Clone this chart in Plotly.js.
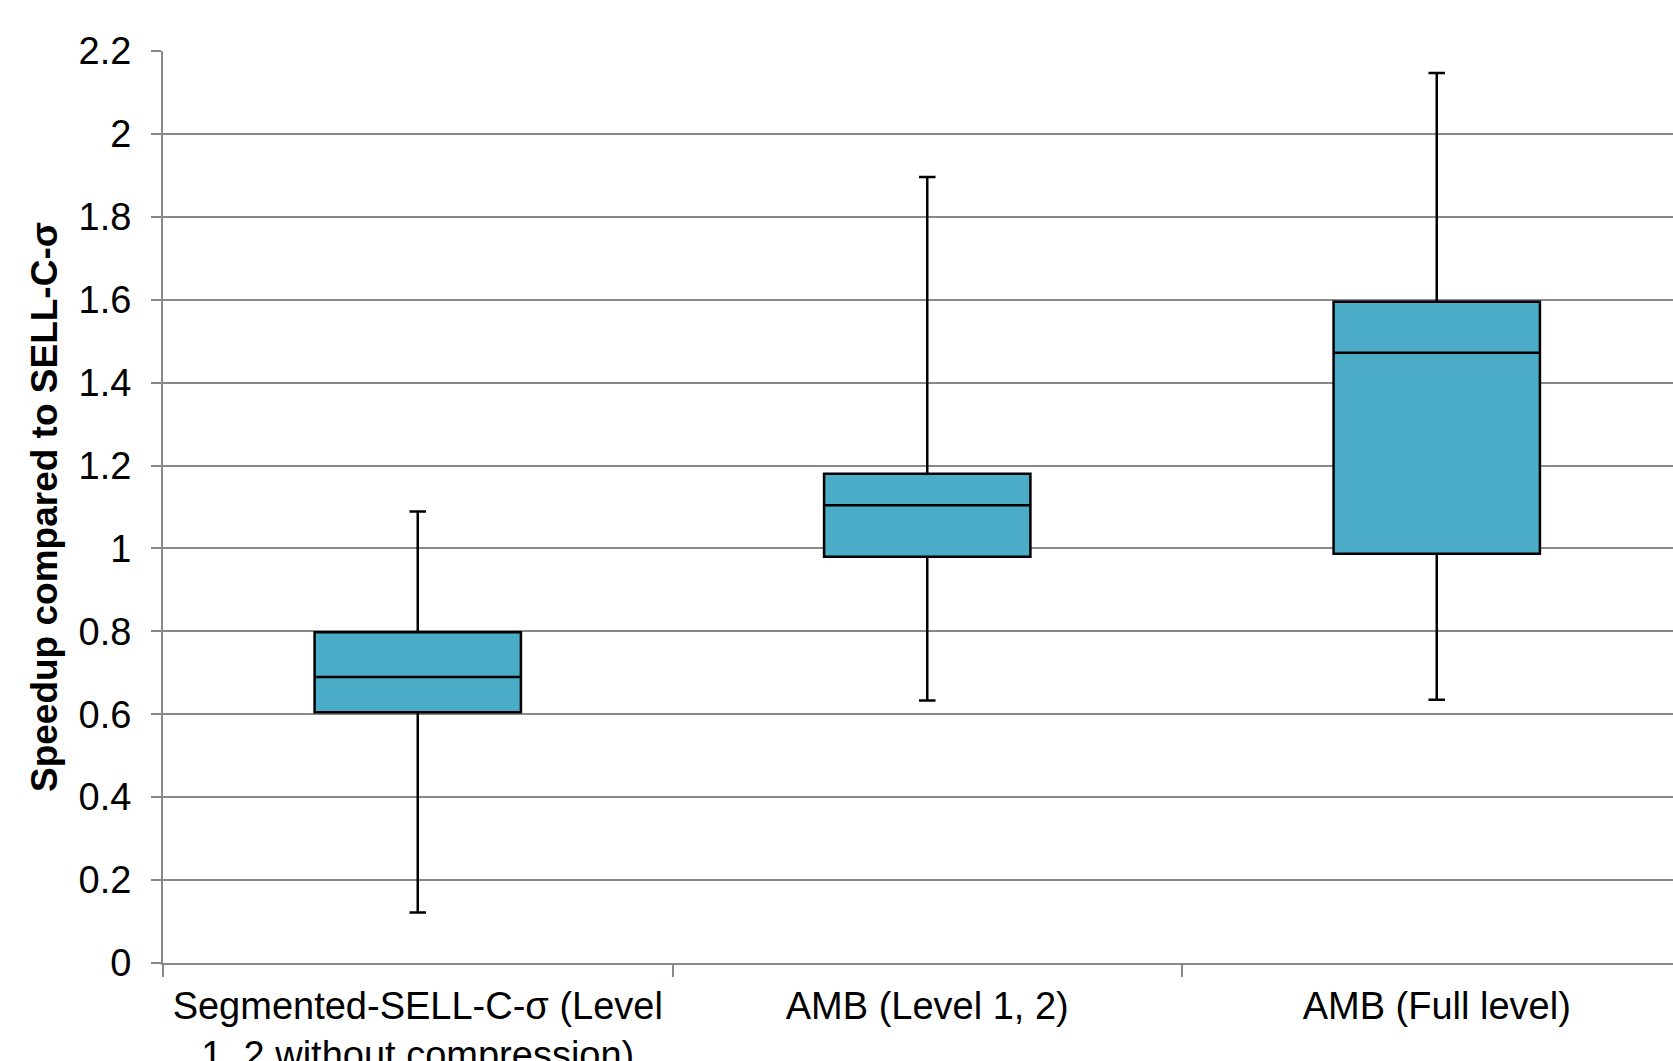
<!DOCTYPE html>
<html>
<head>
<meta charset="utf-8">
<script src="https://cdn.plot.ly/plotly-3.0.1.min.js"></script>
<style>html,body{margin:0;padding:0;background:#fff;}#chart{width:1673px;height:1061px;}</style>
</head>
<body>
<div id="chart"></div>
<script>
const categories = ["Segmented-SELL-C-σ (Level 1, 2 without compression)", "AMB (Level 1, 2)", "AMB (Full level)"];
const tickLabels = ["Segmented-SELL-C-σ (Level<br>1, 2 without compression)", "AMB (Level 1, 2)", "AMB (Full level)"];
const lowerWhisker = [0.122, 0.633, 0.635];
const q1Values = [0.605, 0.980, 0.987];
const medianValues = [0.690, 1.104, 1.472];
const q3Values = [0.798, 1.180, 1.595];
const upperWhisker = [1.089, 1.896, 2.147];
const yTicks = [0, 0.2, 0.4, 0.6, 0.8, 1, 1.2, 1.4, 1.6, 1.8, 2, 2.2];

const trace = {
  type: "box",
  x: categories,
  lowerfence: lowerWhisker,
  q1: q1Values,
  median: medianValues,
  q3: q3Values,
  upperfence: upperWhisker,
  boxpoints: false,
  width: 0.405,
  whiskerwidth: 0.08,
  fillcolor: "#4aacc6",
  line: {color: "#000000", width: 2.5},
  showlegend: false,
  hoverinfo: "skip"
};

const layout = {
  width: 1673,
  height: 1061,
  margin: {l: 163, r: 0, t: 51, b: 98, pad: 0},
  paper_bgcolor: "#ffffff",
  plot_bgcolor: "#ffffff",
  font: {family: "Liberation Sans, Arial, sans-serif", color: "#000000", size: 38},
  showlegend: false,
  xaxis: {
    type: "category",
    range: [-0.5, 2.4637],
    tickvals: categories,
    ticktext: tickLabels,
    tickson: "boundaries",
    ticks: "outside",
    ticklen: 12,
    tickwidth: 2,
    tickcolor: "#898989",
    ticklabelstandoff: 8,
    showgrid: false,
    showline: true,
    linecolor: "#898989",
    linewidth: 2,
    zeroline: false,
    tickfont: {size: 38, color: "#000000"},
    automargin: false,
    fixedrange: true
  },
  yaxis: {
    range: [0, 2.2],
    tickvals: yTicks,
    ticks: "outside",
    ticklen: 10,
    tickwidth: 2,
    tickcolor: "#898989",
    ticklabelstandoff: 12,
    showgrid: true,
    gridcolor: "#898989",
    gridwidth: 2,
    showline: true,
    linecolor: "#898989",
    linewidth: 2,
    zeroline: false,
    tickfont: {size: 38, color: "#000000"},
    title: {text: "<b>Speedup compared to SELL-C-σ</b>", font: {size: 37, color: "#000000"}, standoff: 10},
    automargin: false,
    fixedrange: true
  }
};

Plotly.newPlot("chart", [trace], layout, {staticPlot: true, displayModeBar: false});
</script>
</body>
</html>
